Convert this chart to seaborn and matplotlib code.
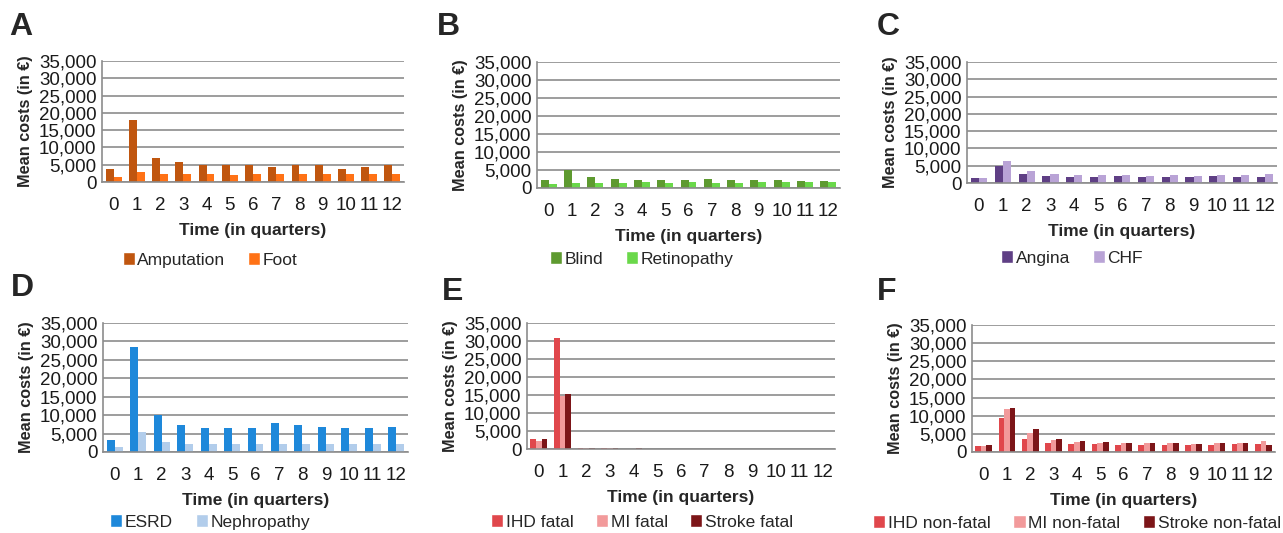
import numpy as np
import pandas as pd
import seaborn as sns
import matplotlib.pyplot as plt
from matplotlib.patches import Patch
from matplotlib.ticker import FuncFormatter

quarters = list(range(13))

amputation = [3800, 18000, 6800, 5700, 5000, 4900, 5000, 4400, 4800, 4800, 3800, 4400, 4800]
foot = [1500, 2900, 2200, 2200, 2200, 1900, 2200, 2200, 2200, 2200, 2200, 2200, 2200]

blind = [2100, 5000, 3000, 2500, 2300, 2300, 2300, 2500, 2100, 2300, 2300, 1900, 1900]
retinopathy = [1100, 1400, 1400, 1400, 1600, 1400, 1600, 1400, 1400, 1600, 1600, 1600, 1600]

angina = [1500, 5000, 2700, 2000, 1800, 1800, 2000, 1800, 1800, 1800, 2000, 1800, 1800]
chf = [1500, 6500, 3400, 2500, 2200, 2200, 2200, 2000, 2200, 2000, 2200, 2200, 2500]

esrd = [3200, 28500, 10000, 7200, 6600, 6400, 6600, 7800, 7200, 6800, 6600, 6600, 6800]
nephropathy = [1400, 5500, 2700, 2300, 2100, 2100, 2100, 2100, 2100, 2100, 2100, 2100, 2100]

ihd_fatal = [2800, 30800, 400, 200, 0, 0, 0, 0, 0, 0, 0, 0, 0]
mi_fatal = [2200, 14800, 400, 400, 0, 0, 0, 0, 0, 0, 0, 0, 0]
stroke_fatal = [2800, 15300, 400, 300, 400, 0, 0, 0, 0, 0, 0, 0, 0]

ihd_nonfatal = [1600, 9500, 3600, 2500, 2200, 2200, 2000, 2000, 2000, 2000, 2000, 2200, 2200]
mi_nonfatal = [1600, 11800, 5200, 3200, 2700, 2500, 2400, 2400, 2400, 2200, 2400, 2400, 3000]
stroke_nonfatal = [1800, 12000, 6300, 3600, 2900, 2700, 2500, 2500, 2500, 2200, 2500, 2500, 2000]

panels = [
    ("A", {"Amputation": amputation, "Foot": foot}, ["#C0560F", "#FF7216"]),
    ("B", {"Blind": blind, "Retinopathy": retinopathy}, ["#5E9A30", "#6AD84A"]),
    ("C", {"Angina": angina, "CHF": chf}, ["#5F3F85", "#B9A3D6"]),
    ("D", {"ESRD": esrd, "Nephropathy": nephropathy}, ["#1E88DA", "#B2CDEB"]),
    ("E", {"IHD fatal": ihd_fatal, "MI fatal": mi_fatal, "Stroke fatal": stroke_fatal},
     ["#E0474C", "#F29A9B", "#7C1518"]),
    ("F", {"IHD non-fatal": ihd_nonfatal, "MI non-fatal": mi_nonfatal,
           "Stroke non-fatal": stroke_nonfatal},
     ["#E0474C", "#F29A9B", "#7C1518"]),
]

# axes rectangles in pixels: left, top, right, bottom
boxes = [
    (102, 61, 404, 182),
    (537, 62, 840, 188),
    (967, 62, 1277, 183),
    (103, 323, 408, 452),
    (527, 323, 835, 449),
    (972, 325, 1275, 452),
]
# panel letter (x, top) and legend centre (x, y), pixels
letters_at = [(9, 12), (437, 12), (877, 12), (11, 273), (442, 277), (877, 277)]
legends_at = [(210, 260), (642, 259), (1072, 258), (210, 522), (642, 522), (1077, 523)]

W, H = 1283, 533
sns.set_style("white")
plt.rcParams["font.family"] = ["Liberation Sans", "DejaVu Sans"]

fig = plt.figure(figsize=(W / 100, H / 100), dpi=100)

for (letter, series, colors), (l, t, r, b), (lx, ly), (gx, gy) in zip(panels, boxes, letters_at, legends_at):
    ax = fig.add_axes([l / W, 1 - b / H, (r - l) / W, (b - t) / H])
    df = pd.DataFrame(series)
    df["quarter"] = quarters
    long = df.melt(id_vars="quarter", var_name="group", value_name="cost")
    width = 0.68 if len(series) == 2 else 0.72
    sns.barplot(data=long, x="quarter", y="cost", hue="group", palette=colors,
                width=width, ax=ax, legend=False, saturation=1, edgecolor="none")
    ax.set_ylim(0, 35000)
    ax.set_yticks(range(0, 35001, 5000))
    ax.yaxis.set_major_formatter(FuncFormatter(lambda v, p: f"{int(v):,}"))
    ax.grid(axis="y", color="#8C8C8C", linewidth=1.2)
    ax.set_axisbelow(True)
    for s in ["top", "right"]:
        ax.spines[s].set_visible(False)
    for s in ["left", "bottom"]:
        ax.spines[s].set_color("#8C8C8C")
        ax.spines[s].set_linewidth(1.2)
    ax.tick_params(axis="both", length=0, colors="#1a1a1a")
    ax.tick_params(axis="y", labelsize=13.5, pad=4)
    ax.tick_params(axis="x", labelsize=13.5, pad=11)
    ax.set_xlabel("Time (in quarters)", fontsize=12.5, fontweight="bold", labelpad=6)
    ax.set_ylabel("Mean costs (in €)", fontsize=11.7, fontweight="bold", labelpad=4)
    fig.text(lx / W, 1 - ly / H, letter, fontsize=23, fontweight="bold",
             ha="left", va="top")
    handles = [Patch(facecolor=c, label=n) for n, c in zip(series, colors)]
    fig.legend(handles=handles, loc="center", bbox_to_anchor=(gx / W, 1 - gy / H),
               ncol=len(series), frameon=False, fontsize=12.5, handlelength=0.7,
               handleheight=0.7, handletextpad=0.15, columnspacing=1.3,
               borderpad=0, borderaxespad=0)

fig.savefig("out.png", dpi=100)
